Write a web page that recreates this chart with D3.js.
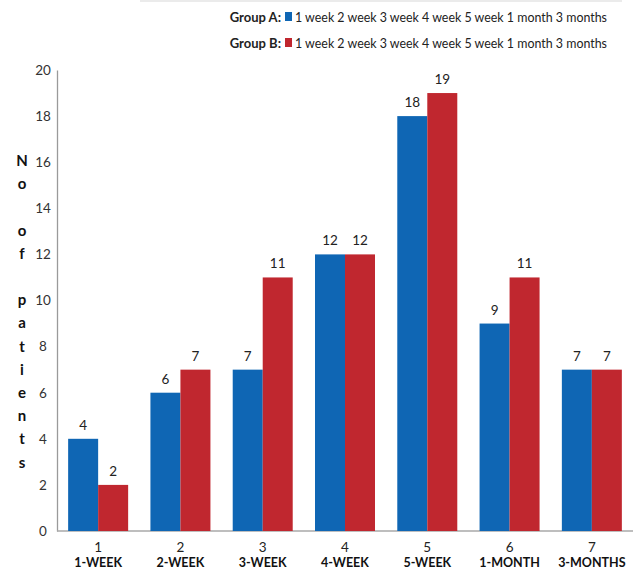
<!DOCTYPE html>
<html>
<head>
<meta charset="utf-8">
<script src="https://cdn.jsdelivr.net/npm/d3@7"></script>
<style>
  html, body { margin: 0; padding: 0; background: #fff; }
  svg { display: block; font-family: Lato, "Open Sans", sans-serif; }
</style>
</head>
<body>
<svg id="chart" width="635" height="572"></svg>
<script>
// Follow-up periods and patient counts per group
const periodNumbers = ["1", "2", "3", "4", "5", "6", "7"];
const periodNames = ["1-WEEK", "2-WEEK", "3-WEEK", "4-WEEK", "5-WEEK", "1-MONTH", "3-MONTHS"];
const groupA = [4, 6, 7, 12, 18, 9, 7];
const groupB = [2, 7, 11, 12, 19, 11, 7];
const seriesNames = ["Group A", "Group B"];
const yTicks = [0, 2, 4, 6, 8, 10, 12, 14, 16, 18, 20];
const legendText = "1 week 2 week 3 week 4 week 5 week 1 month 3 months";
const yTitle = "No of patients";

const colors = { "Group A": "#0F66B4", "Group B": "#C0272F" };

const svg = d3.select("#chart");
const plotLeft = 57, plotRight = 633, plotTop = 70, plotBottom = 531;

const x = d3.scaleBand().domain(periodNumbers).range([plotLeft, plotRight]).paddingInner(0).paddingOuter(0);
const groupWidth = 60;
const x1 = d3.scaleBand().domain(seriesNames).range([0, groupWidth]);
const y = d3.scaleLinear().domain([0, 20]).range([plotBottom, plotTop]);

// faint rule along the top
svg.append("line").attr("x1", 140).attr("x2", 622).attr("y1", 1).attr("y2", 1)
  .attr("stroke", "#e4e4e4").attr("stroke-width", 1.5);

// y axis
const yAxis = svg.append("g").attr("transform", `translate(${plotLeft},0)`)
  .call(d3.axisLeft(y).tickValues(yTicks).tickSize(0).tickPadding(8));
yAxis.select(".domain").attr("stroke", "#9a9a9a").attr("stroke-width", 1.3);
yAxis.selectAll("text").attr("font-size", 13.5).attr("fill", "#333")
  .attr("font-family", "Lato, sans-serif").attr("text-anchor", "middle").attr("dx", -6);

// x axis baseline
svg.append("line").attr("x1", plotLeft).attr("x2", plotRight).attr("y1", plotBottom).attr("y2", plotBottom)
  .attr("stroke", "#a8a8a8").attr("stroke-width", 1.3);

// bars
const rows = periodNumbers.map((p, i) => ({ p, values: [
  { s: "Group A", v: groupA[i] }, { s: "Group B", v: groupB[i] }] }));

const g = svg.append("g").selectAll("g").data(rows).join("g")
  .attr("transform", d => `translate(${x(d.p) + (x.bandwidth() - groupWidth) / 2},0)`);

g.selectAll("rect").data(d => d.values).join("rect")
  .attr("x", d => x1(d.s))
  .attr("width", x1.bandwidth())
  .attr("y", d => y(d.v))
  .attr("height", d => y(0) - y(d.v))
  .attr("fill", d => colors[d.s]);

g.selectAll("text.val").data(d => d.values).join("text").attr("class", "val")
  .attr("x", d => x1(d.s) + x1.bandwidth() / 2)
  .attr("y", d => y(d.v) - 9)
  .attr("text-anchor", "middle")
  .attr("font-size", 13.5).attr("fill", "#222")
  .text(d => d.v);

// category labels
const cats = svg.append("g");
periodNumbers.forEach((p, i) => {
  const cx = x(p) + x.bandwidth() / 2;
  cats.append("text").attr("x", cx).attr("y", 552).attr("text-anchor", "middle")
    .attr("font-size", 13.5).attr("fill", "#222").text(p);
  cats.append("text").attr("x", cx).attr("y", 567).attr("text-anchor", "middle")
    .attr("font-size", 12.5).attr("font-weight", "bold").attr("fill", "#111").text(periodNames[i]);
});

// vertical stacked y title
const letters = yTitle.split("");
const ty = svg.append("g");
letters.forEach((ch, i) => {
  if (ch === " ") return;
  ty.append("text").attr("x", 22).attr("y", 166 + i * 23.2)
    .attr("text-anchor", "middle").attr("font-size", 15).attr("font-weight", "bold")
    .attr("fill", "#111").text(ch);
});

// legend
const legend = svg.append("g");
seriesNames.forEach((s, i) => {
  const ly = 22 + i * 26;
  legend.append("text").attr("x", 281).attr("y", ly).attr("text-anchor", "end")
    .attr("font-size", 13).attr("font-weight", "bold").attr("fill", "#222").text(s + ":");
  legend.append("rect").attr("x", 285).attr("y", ly - 10).attr("width", 7).attr("height", 9)
    .attr("fill", colors[s]);
  legend.append("text").attr("x", 295).attr("y", ly)
    .attr("font-size", 13).attr("fill", "#222")
    .attr("textLength", 312).attr("lengthAdjust", "spacingAndGlyphs")
    .text(legendText);
});
</script>
</body>
</html>
